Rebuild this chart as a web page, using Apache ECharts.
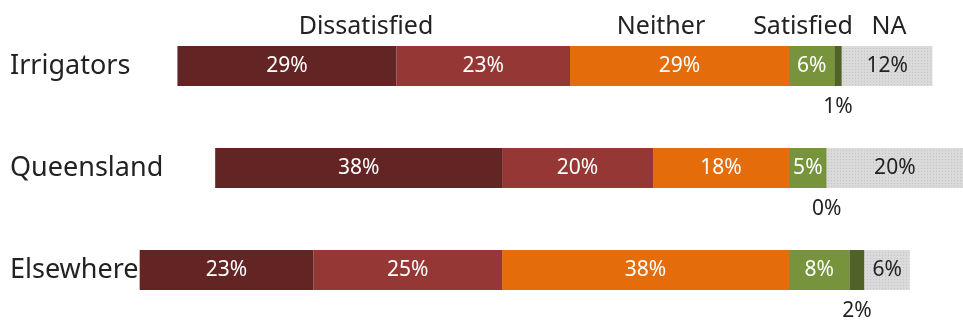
<!DOCTYPE html>
<html>
<head>
<meta charset="utf-8">
<script src="https://cdn.jsdelivr.net/npm/echarts@6/dist/echarts.min.js"></script>
<style>
  html, body { margin: 0; padding: 0; background: #fff; }
  #chart { width: 963px; height: 321px; }
</style>
</head>
<body>
<div id="chart"></div>
<script>
// Survey groups, top to bottom
const groups = ['Irrigators', 'Queensland', 'Elsewhere'];

// Shares of responses (%) per group
const veryDissatisfied = [29, 38, 23];
const dissatisfied     = [23, 20, 25];
const neither          = [29, 18, 38];
const satisfied        = [6, 5, 8];
const verySatisfied    = [1, 0, 2];
const notApplicable    = [12, 20, 6];

// Column headings shown above the bars
const headings = ['Dissatisfied', 'Neither', 'Satisfied', 'NA'];

const FONT = '"Segoe UI", "Noto Sans", "Open Sans", sans-serif';
const DARK = '#222222';

const chart = echarts.init(document.getElementById('chart'), null, { renderer: 'canvas' });

// Left-hand segments are stacked as negatives so that the diverging bars
// share a common zero between "Neither" and "Satisfied".
const neg = arr => arr.map(v => -v);
const pctLabel = p => Math.abs(p.value) + '%';

function insideLabel(color) {
  return {
    show: true,
    position: 'inside',
    formatter: pctLabel,
    color: color,
    fontFamily: FONT,
    fontSize: 21
  };
}

const series = [
  {
    name: 'Neither', type: 'bar', stack: 'all', data: neg(neither),
    itemStyle: { color: '#E46C0A' }, label: insideLabel('#FFFFFF')
  },
  {
    name: 'Dissatisfied', type: 'bar', stack: 'all', data: neg(dissatisfied),
    itemStyle: { color: '#953735' }, label: insideLabel('#FFFFFF')
  },
  {
    name: 'Very dissatisfied', type: 'bar', stack: 'all', data: neg(veryDissatisfied),
    itemStyle: { color: '#632523' }, label: insideLabel('#FFFFFF')
  },
  {
    name: 'Satisfied', type: 'bar', stack: 'all', data: satisfied,
    itemStyle: { color: '#77933C' }, label: insideLabel('#FFFFFF')
  },
  {
    name: 'Very satisfied', type: 'bar', stack: 'all', data: verySatisfied,
    itemStyle: { color: '#4F6228' },
    label: {
      show: true, position: 'bottom', distance: 11,
      formatter: pctLabel, color: DARK, fontFamily: FONT, fontSize: 21
    }
  },
  {
    name: 'NA', type: 'bar', stack: 'all', data: notApplicable,
    itemStyle: {
      color: '#DADADA',
      decal: {
        symbol: 'rect', symbolSize: 1,
        dashArrayX: [1, 2], dashArrayY: [1, 2],
        color: 'rgba(150,150,150,0.3)'
      }
    },
    label: insideLabel(DARK)
  }
];

series.forEach(s => { s.barWidth = 40; s.barGap = '0%'; s.silent = true; });

const headingX = [366, 661, 803, 889];

chart.setOption({
  animation: false,
  backgroundColor: '#FFFFFF',
  grid: { left: 0, width: 963, top: 15, height: 306, containLabel: false },
  xAxis: {
    type: 'value', min: -104.5, max: 23.05, show: false
  },
  yAxis: {
    type: 'category', data: groups, inverse: true,
    axisLine: { show: false }, axisTick: { show: false },
    axisLabel: {
      inside: true, margin: 10, color: DARK,
      fontFamily: FONT, fontSize: 27,
      padding: [6, 0, 0, 0]
    },
    z: 10
  },
  graphic: headings.map((t, i) => ({
    type: 'text',
    x: headingX[i], y: 27,
    style: {
      text: t, fill: DARK, font: '25px ' + FONT,
      align: 'center', verticalAlign: 'middle'
    }
  })),
  series: series
});
</script>
</body>
</html>
